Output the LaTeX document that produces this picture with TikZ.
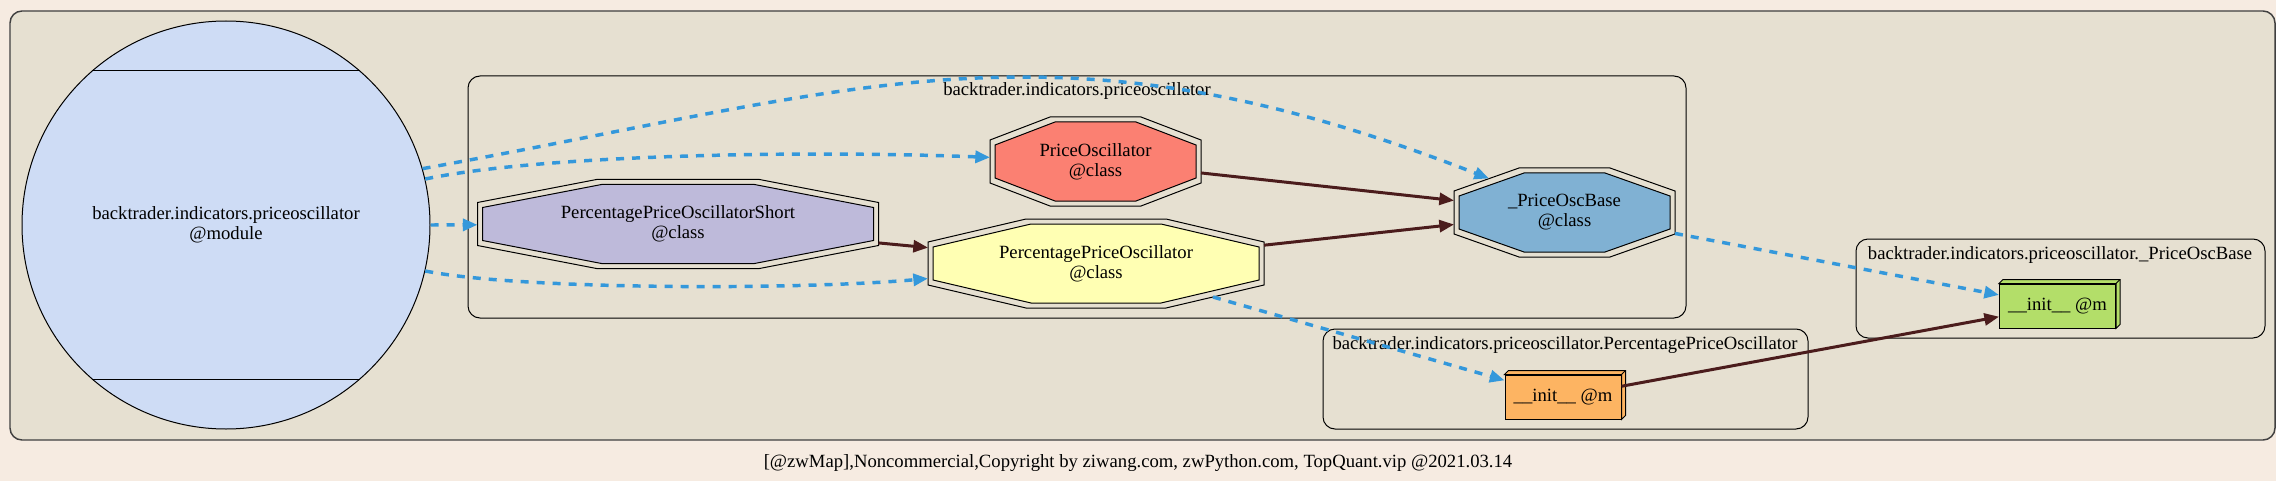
\documentclass[tikz,border=0pt]{standalone}
\usepackage{fontspec}
\setmainfont{Liberation Serif}
\usetikzlibrary{arrows.meta}
\pgfdeclarelayer{back}
\pgfsetlayers{back,main}
\definecolor{pagebg}{HTML}{F6EBE1}
\definecolor{clusterbg}{HTML}{E6E0D1}
\definecolor{modfill}{HTML}{CEDCF5}
\definecolor{pposfill}{HTML}{BEBADA}
\definecolor{oscfill}{HTML}{FB8072}
\definecolor{basefill}{HTML}{80B1D3}
\definecolor{ppofill}{HTML}{FFFFB3}
\definecolor{ppoinit}{HTML}{FDB462}
\definecolor{baseinit}{HTML}{B3DE69}
\definecolor{depblue}{HTML}{3498DB}
\definecolor{inhbrown}{HTML}{4B1C1C}
\newcommand\octheight{66.75pt}
\newcommand\octpath[3]{([shift={(#2+#3,#3)}]#1.north west) -- ([shift={(-#2-#3,#3)}]#1.north east) -- ([shift={(-#3,23+#3)}]#1.north east) -- ([shift={(-#3,-23-#3)}]#1.south east) -- ([shift={(-#2-#3,-#3)}]#1.south east) -- ([shift={(#2+#3,-#3)}]#1.south west) -- ([shift={(#3,-23-#3)}]#1.south west) -- ([shift={(#3,23+#3)}]#1.north west) -- cycle}
\tikzstyle{cluster} = [draw=black, fill=clusterbg, rounded corners=9pt, line width=0.75pt]
\tikzstyle{octo} = [rectangle, minimum height=\octheight, inner sep=0pt, outer sep=0pt, align=center]
\tikzstyle{octline} = [draw=black, line width=0.75pt]
\tikzstyle{modnode} = [circle, draw=black, line width=0.75pt, fill=modfill, minimum size=306pt, inner sep=0pt, align=center]
\tikzstyle{mbox} = [rectangle, draw=black, line width=0.75pt, minimum width=87pt, minimum height=33pt, inner sep=0pt]
\tikzstyle{dep} = [draw=depblue, line width=2.6pt, dash pattern=on 6pt off 6pt, -{Triangle[length=11pt,width=9pt]}]
\tikzstyle{inh} = [draw=inhbrown, line width=2.25pt, -{Triangle[length=11pt,width=9pt]}]
\begin{document}
\begin{tikzpicture}[x=0.75pt, y=-0.75pt, font=\fontsize{14pt}{15pt}\selectfont]

    \useasboundingbox (0,0) rectangle (2276,481);

    % nodes
    \node (mod) [modnode] at (226,225) {backtrader.indicators.priceoscillator\\@module};
    \draw [line width=0.75pt] (mod.131) -- (mod.49);
    \draw [line width=0.75pt] (mod.-131) -- (mod.-49);

    \node (ppos) [octo, minimum width=300.75pt] at (678,224) {PercentagePriceOscillatorShort\\@class};
    \node (posc) [octo, minimum width=158.25pt] at (1095.5,161.5) {PriceOscillator\\@class};
    \node (pbase) [octo, minimum width=165.75pt] at (1564.5,212.5) {\_PriceOscBase\\@class};
    \node (ppo) [octo, minimum width=252pt] at (1096,263.5) {PercentagePriceOscillator\\@class};

    \node (ippo) [mbox, fill=ppoinit] at (1563,397) {\_\_init\_\_ @m};
    \filldraw [fill=ppoinit, line width=0.75pt] (ippo.north west) -- ([shift={(4,-4)}]ippo.north west) -- ([shift={(4,-4)}]ippo.north east) -- ([shift={(4,-4)}]ippo.south east) -- (ippo.south east) -- (ippo.north east) -- cycle;
    \draw [line width=0.75pt] (ippo.north east) -- ([shift={(4,-4)}]ippo.north east);
    \node (ibase) [mbox, fill=baseinit] at (2057.5,306) {\_\_init\_\_ @m};
    \filldraw [fill=baseinit, line width=0.75pt] (ibase.north west) -- ([shift={(4,-4)}]ibase.north west) -- ([shift={(4,-4)}]ibase.north east) -- ([shift={(4,-4)}]ibase.south east) -- (ibase.south east) -- (ibase.north east) -- cycle;
    \draw [line width=0.75pt] (ibase.north east) -- ([shift={(4,-4)}]ibase.north east);

    % clusters and octagons behind the nodes
    \begin{pgfonlayer}{back}
    \fill [pagebg] (0,0) rectangle (2276,481);
    \draw [cluster, draw=black!75, line width=1.1pt] (10,11) rectangle (2275,440);
    \draw [cluster] (468,76) rectangle (1686,318);
    \draw [cluster] (1323,329) rectangle (1808,429);
    \draw [cluster] (1856,239) rectangle (2265,338);
    \foreach \n/\c/\dx in {ppos/pposfill/119, posc/oscfill/60, pbase/basefill/65, ppo/ppofill/98} {
        \draw [octline] \octpath{\n}{\dx}{0};
        \draw [octline, fill=\c] \octpath{\n}{\dx}{5};
    }
    \end{pgfonlayer}
    \node (lbpkg) [anchor=base] at (1077,96) {backtrader.indicators.priceoscillator};
    \node (lbppo) [anchor=base] at (1565,349) {backtrader.indicators.priceoscillator.PercentagePriceOscillator};
    \node (lbbase) [anchor=base] at (2060,259) {backtrader.indicators.priceoscillator.\_PriceOscBase};

    % edges
    \draw [dep] (mod.east) -- (ppos);
    \draw [dep] (mod.13) .. controls (540,155) and (800,150) .. (posc);
    \draw [dep] (mod.16) .. controls (864,89) and (1052,8) .. ([shift={(35,10.5)}]pbase.north west);
    \draw [dep] (mod.-13) .. controls (520,290) and (800,290) .. (ppo);
    \draw [dep] ([shift={(-51,-11)}]ppo.south east) -- (ippo);
    \draw [dep] (pbase) -- (ibase);
    \draw [inh] (posc) -- (pbase);
    \draw [inh] (ppo) -- (pbase);
    \draw [inh] (ppos) -- (ppo);
    \draw [inh] (ippo) -- (ibase);

    \node (credit) at (1138,463) {[@zwMap],Noncommercial,Copyright by ziwang.com, zwPython.com, TopQuant.vip @2021.03.14};

\end{tikzpicture}
\end{document}
